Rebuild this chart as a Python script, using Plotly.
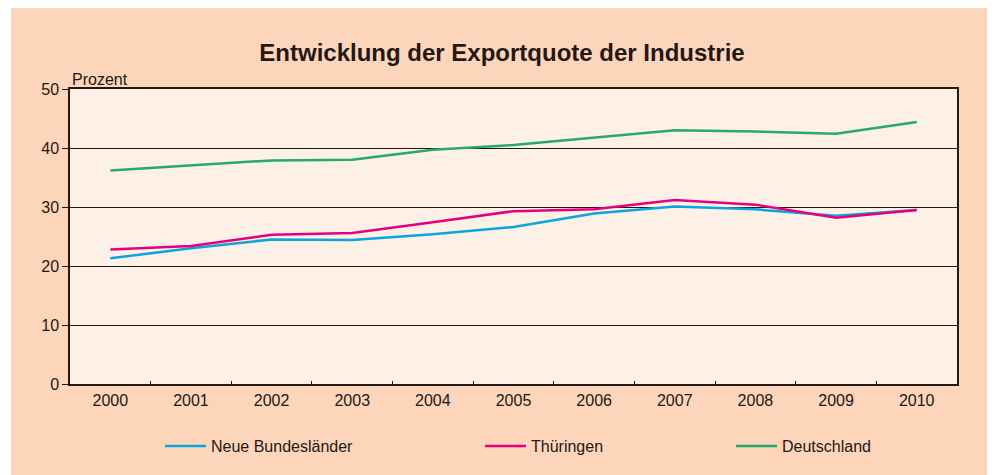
import plotly.graph_objects as go

years = ["2000", "2001", "2002", "2003", "2004", "2005", "2006", "2007", "2008", "2009", "2010"]
neue_bundeslaender = [21.3, 23.0, 24.5, 24.4, 25.4, 26.6, 28.9, 30.1, 29.6, 28.5, 29.5]
thueringen = [22.8, 23.4, 25.3, 25.6, 27.4, 29.3, 29.6, 31.2, 30.4, 28.2, 29.5]
deutschland = [36.2, 37.0, 37.9, 38.0, 39.7, 40.5, 41.8, 43.0, 42.8, 42.4, 44.4]

series_names = ["Neue Bundesländer", "Thüringen", "Deutschland"]
series_values = [neue_bundeslaender, thueringen, deutschland]
series_colors = ["#0AA5DD", "#E5007E", "#27A96B"]
legend_ids = ["legend", "legend2", "legend3"]
legend_line_x = [165, 485, 736]  # page x where each legend line starts

y_ticks = [0, 10, 20, 30, 40, 50]

TXT = "#231815"
FONT = "Liberation Sans, Arial, sans-serif"
OFF = 8  # page body margin
W, H = 995 - OFF, 475 - OFF
L, R, T, B = 70 - OFF, 995 - 957, 89 - OFF, 475 - 384
PW, PH = W - L - R, H - T - B

fig = go.Figure()
for name, vals, col, lid in zip(series_names, series_values, series_colors, legend_ids):
    fig.add_trace(go.Scatter(x=years, y=vals, name=name, mode="lines", legend=lid,
                             line=dict(color=col, width=2.5)))

legend_common = dict(orientation="h", xanchor="left", yanchor="middle",
                     y=(384 - 446) / PH, bgcolor="rgba(0,0,0,0)", borderwidth=0,
                     font=dict(size=16, color=TXT, family=FONT), itemwidth=41)
legends = {}
for lid, lx in zip(legend_ids, legend_line_x):
    legends[lid] = dict(legend_common, x=(lx - 5 - 70) / PW)

fig.update_layout(
    width=W, height=H,
    margin=dict(l=L, r=R, t=T, b=B, autoexpand=False),
    paper_bgcolor="#FDD5BA",
    plot_bgcolor="#FDF0E6",
    font=dict(family=FONT, size=16, color=TXT),
    title=dict(text="<b>Entwicklung der Exportquote der Industrie</b>",
               x=(502 - 70) / PW, xref="paper", xanchor="center",
               y=1 - (53 - OFF) / H, yanchor="middle",
               font=dict(size=24, color=TXT, family=FONT)),
    showlegend=True,
    shapes=[dict(type="rect", xref="paper", yref="paper",
                 x0=-L / PW, x1=-(L - 3) / PW, y0=-B / PH, y1=1 + T / PH,
                 fillcolor="white", line=dict(width=0), layer="below")],
    annotations=[dict(text="Prozent", xref="paper", yref="paper", x=0.0, y=1.0,
                      xanchor="left", yanchor="bottom", showarrow=False, xshift=0, yshift=-1,
                      font=dict(size=16, color=TXT, family=FONT))],
    **legends,
)

fig.update_xaxes(type="category", range=[-0.5, 10.5], showgrid=False,
                 showline=True, linecolor=TXT, linewidth=1.5, mirror=True,
                 ticks="inside", tickson="boundaries", ticklen=3, tickcolor=TXT,
                 tickfont=dict(size=16, color=TXT), ticklabelstandoff=1)
fig.update_yaxes(range=[0, 50], tickvals=y_ticks, showgrid=True, gridcolor=TXT, gridwidth=1,
                 showline=True, linecolor=TXT, linewidth=1.5, mirror=True,
                 ticks="outside", ticklen=6, tickcolor=TXT, zeroline=False,
                 tickfont=dict(size=16, color=TXT), ticklabelstandoff=0)

fig.write_html("out.html")
